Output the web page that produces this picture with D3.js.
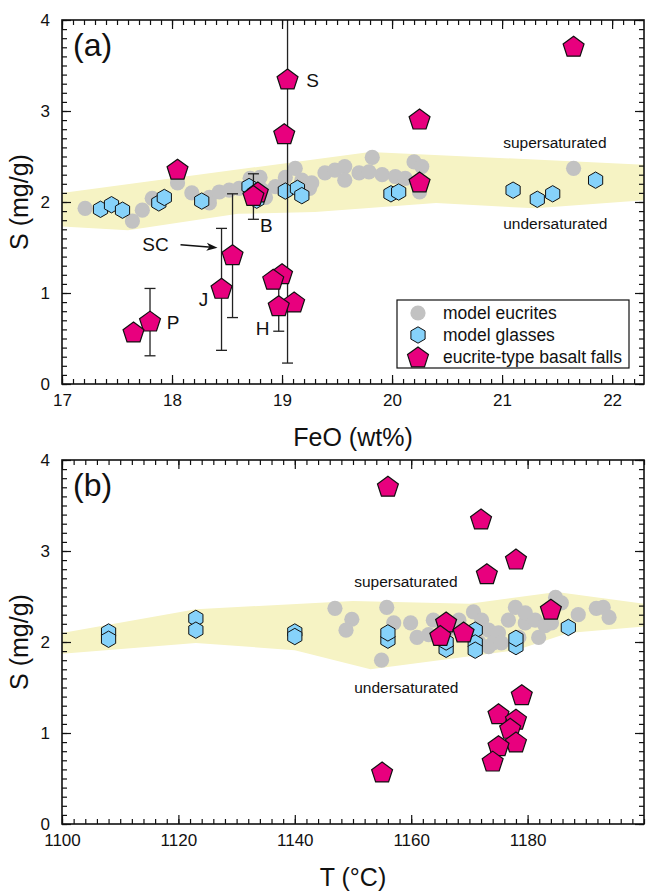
<!DOCTYPE html>
<html>
<head>
<meta charset="utf-8">
<script src="https://cdn.jsdelivr.net/npm/d3@7"></script>
<style>
  body { margin: 0; background: #fff; }
  svg { display: block; }
  text { font-family: "Liberation Sans", Arial, Helvetica, sans-serif; fill: #111; }
</style>
</head>
<body>
<svg id="chart" width="646" height="896"></svg>
<script>
// ---- tick labels ----
const feoTicks = [17, 18, 19, 20, 21, 22];
const tempTicks = [1100, 1120, 1140, 1160, 1180];
const sTicks = [0, 1, 2, 3, 4];

// ---- eucrite-type basalt falls (shared S values, FeO and T for each) ----
const fallS   = [3.70, 3.34, 2.90, 2.74, 2.35, 2.21, 2.10, 2.06, 1.41, 1.20, 1.14, 1.04, 0.89, 0.85, 0.68, 0.56];
const fallFeO = [21.65, 19.05, 20.25, 19.02, 18.05, 20.25, 18.78, 18.74, 18.55, 19.00, 18.92, 18.45, 19.11, 18.97, 17.80, 17.65];
const fallT   = [1156, 1172, 1178, 1173, 1184, 1166, 1169, 1165, 1179, 1175, 1178, 1177, 1178, 1175, 1174, 1155];
const fallErr = [0, 3.11, 0, 0, 0, 0, 0, 0.25, 0.68, 0, 0, 0.67, 0, 0.27, 0.37, 0];
const fallName = ["", "S", "", "", "", "", "", "B", "SC", "", "", "J", "", "H", "P", ""];

// ---- model glasses ----
const glassFeO = [17.35, 17.45, 17.55, 17.88, 17.93, 18.27, 18.70, 18.77, 19.03, 19.14, 19.18, 19.99, 20.06, 21.10, 21.32, 21.46, 21.85];
const glassSa  = [1.92, 1.97, 1.91, 1.99, 2.05, 2.01, 2.17, 2.02, 2.12, 2.15, 2.07, 2.09, 2.11, 2.13, 2.03, 2.09, 2.24];
const glassT   = [1108, 1108, 1123, 1123, 1140, 1140, 1156, 1156, 1166, 1166, 1171, 1171, 1171, 1178, 1178, 1187];
const glassSb  = [2.11, 2.03, 2.26, 2.13, 2.11, 2.06, 2.02, 2.10, 1.92, 2.00, 2.13, 1.99, 1.91, 1.95, 2.04, 2.16];

// ---- model eucrites ----
const eucFeO = [17.21, 17.64, 17.73, 17.82, 18.05, 18.18, 18.34, 18.34, 18.43, 18.52, 18.61, 18.71, 18.80, 18.82, 18.85,
                18.94, 19.03, 19.12, 19.18, 19.25, 19.27, 19.39, 19.48, 19.57, 19.57, 19.70, 19.79, 19.82, 19.91,
                20.03, 20.12, 20.20, 20.25, 20.27, 21.65];
const eucSa  = [1.93, 1.79, 1.91, 2.04, 2.21, 2.10, 2.05, 1.99, 2.11, 2.13, 2.15, 2.26, 2.27, 2.13, 2.05,
                2.17, 2.27, 2.37, 2.24, 2.15, 2.21, 2.32, 2.35, 2.39, 2.24, 2.32, 2.33, 2.49, 2.30,
                2.28, 2.26, 2.44, 2.11, 2.39, 2.37];
const eucT   = [1146.9, 1149.8, 1148.8, 1155.8, 1157.0, 1154.9, 1159.9, 1161.0, 1163.8, 1163.0, 1166.5, 1168.2, 1169.0,
                1170.7, 1171.6, 1172.1, 1173.3, 1173.3, 1174.1, 1175.0, 1175.5, 1176.7, 1177.9, 1178.5, 1179.6, 1179.6,
                1181.3, 1181.9, 1183.0, 1184.1, 1184.8, 1185.8, 1188.7, 1191.8, 1193.0, 1194.0];
const eucSb  = [2.37, 2.25, 2.13, 2.38, 2.21, 1.80, 2.21, 2.05, 2.24, 2.08, 2.14, 2.24, 2.10,
                2.33, 2.00, 2.24, 2.13, 1.95, 1.99, 2.10, 1.99, 2.24, 2.38, 2.05, 2.21, 2.32,
                2.24, 2.05, 2.18, 2.21, 2.49, 2.43, 2.30, 2.37, 2.38, 2.27];

// ---- saturation bands (upper edge then lower edge) ----
const bandA_x = [17.0, 19.8, 22.3, 22.3, 21.3, 20.4, 19.3, 18.6, 17.6, 17.0];
const bandA_y = [2.10, 2.55, 2.41, 2.02, 1.93, 1.99, 1.89, 1.87, 1.69, 1.73];
const bandB_x = [1100, 1123, 1150, 1170, 1185, 1200, 1200, 1187, 1178, 1153, 1140, 1123, 1100];
const bandB_y = [2.10, 2.36, 2.45, 2.42, 2.55, 2.42, 2.17, 2.10, 1.91, 1.70, 1.91, 1.99, 1.87];

const svg = d3.select("#chart");

const C_EUC = "#c2c2c2", C_GLASS = "#86d2fa", C_FALL = "#e8007e", C_BAND = "#f6f3c4";
const FS_TICK = 17, FS_TITLE = 25, FS_NOTE = 15.5, FS_LEGEND = 17.5, FS_NAME = 19, FS_TAG = 32;

function polygonPath(n, r) {
  const pts = d3.range(n).map(k => {
    const a = -Math.PI / 2 + k * 2 * Math.PI / n;
    return [r * Math.cos(a), r * Math.sin(a)];
  });
  return "M" + pts.map(p => p[0].toFixed(2) + "," + p[1].toFixed(2)).join("L") + "Z";
}
const hexPath = polygonPath(6, 8.2);
const pentPath = polygonPath(5, 11);

function panel(opts) {
  const { top, bottom, left, right, xDomain, xTicks, xMinorStep, xTitle, tag } = opts;
  const x = d3.scaleLinear().domain(xDomain).range([left, right]);
  const y = d3.scaleLinear().domain([0, 4]).range([bottom, top]);
  const g = svg.append("g");

  const clipId = "clip-" + tag;
  svg.append("clipPath").attr("id", clipId)
    .append("rect").attr("x", left).attr("y", top).attr("width", right - left).attr("height", bottom - top);
  const plot = g.append("g").attr("clip-path", `url(#${clipId})`);

  // band
  const band = opts.bandX.map((v, i) => [v, opts.bandY[i]]);
  plot.append("path")
    .attr("d", d3.line().x(d => x(d[0])).y(d => y(d[1]))(band) + "Z")
    .attr("fill", C_BAND);

  const xMinor = d3.range(xDomain[0], xDomain[1] + 1e-9, xMinorStep);
  const yMinor = d3.range(0, 4.0001, 0.1);

  const addAxis = (axis, tx, ty) => {
    const ag = g.append("g").attr("transform", `translate(${tx},${ty})`).call(axis);
    ag.select(".domain").remove();
    ag.selectAll("line").attr("stroke", "#111").attr("stroke-width", 1.2);
    return ag;
  };
  const minor = (fn, s, vals) => fn(s).tickValues(vals).tickSizeInner(-5).tickSizeOuter(0).tickFormat("");
  const major = (fn, s, vals) => fn(s).tickValues(vals).tickSizeInner(-9).tickSizeOuter(0);

  // inward ticks on all four sides
  addAxis(minor(d3.axisBottom, x, xMinor), 0, bottom);
  addAxis(minor(d3.axisTop, x, xMinor), 0, top);
  addAxis(minor(d3.axisLeft, y, yMinor), left, 0);
  addAxis(minor(d3.axisRight, y, yMinor), right, 0);
  const bx = addAxis(major(d3.axisBottom, x, xTicks).tickPadding(10).tickFormat(d3.format("d")), 0, bottom);
  bx.selectAll("text").attr("font-size", FS_TICK).attr("fill", "#111");
  addAxis(major(d3.axisTop, x, xTicks).tickFormat(""), 0, top);
  const ly = addAxis(major(d3.axisLeft, y, sTicks).tickPadding(12).tickFormat(d3.format("d")), left, 0);
  ly.selectAll("text").attr("font-size", FS_TICK).attr("fill", "#111");
  addAxis(major(d3.axisRight, y, sTicks).tickFormat(""), right, 0);

  // frame
  g.append("rect").attr("x", left).attr("y", top).attr("width", right - left).attr("height", bottom - top)
    .attr("fill", "none").attr("stroke", "#111").attr("stroke-width", 1.6);

  // titles
  g.append("text").attr("x", (left + right) / 2).attr("y", bottom + 62)
    .attr("text-anchor", "middle").attr("font-size", FS_TITLE).text(xTitle);
  g.append("text").attr("transform", `translate(${left - 34},${(top + bottom) / 2}) rotate(-90)`)
    .attr("text-anchor", "middle").attr("font-size", FS_TITLE).text("S (mg/g)");
  g.append("text").attr("x", left + 11).attr("y", top + 36).attr("font-size", FS_TAG).text(`(${tag})`);

  // model eucrites
  plot.append("g").selectAll("circle").data(opts.eucX.map((v, i) => [v, opts.eucY[i]])).join("circle")
    .attr("cx", d => x(d[0])).attr("cy", d => y(d[1])).attr("r", 7.6).attr("fill", C_EUC);

  // model glasses
  plot.append("g").selectAll("path").data(opts.glassX.map((v, i) => [v, opts.glassY[i]])).join("path")
    .attr("d", hexPath).attr("transform", d => `translate(${x(d[0])},${y(d[1])})`)
    .attr("fill", C_GLASS).attr("stroke", "#111").attr("stroke-width", 1);

  return { x, y, g, plot };
}

function drawFalls(p, xs, withErr) {
  const falls = fallS.map((s, i) => ({ x: xs[i], s, e: fallErr[i], name: fallName[i] }));
  if (withErr) {
    const eg = p.plot.append("g").attr("stroke", "#222").attr("stroke-width", 1.3);
    falls.filter(d => d.e > 0).forEach(d => {
      const cx = p.x(d.x), y0 = p.y(d.s - d.e), y1 = p.y(d.s + d.e);
      eg.append("line").attr("x1", cx).attr("x2", cx).attr("y1", y0).attr("y2", y1);
      eg.append("line").attr("x1", cx - 5.5).attr("x2", cx + 5.5).attr("y1", y0).attr("y2", y0);
      eg.append("line").attr("x1", cx - 5.5).attr("x2", cx + 5.5).attr("y1", y1).attr("y2", y1);
    });
  }
  p.plot.append("g").selectAll("path").data(falls).join("path")
    .attr("d", pentPath).attr("transform", d => `translate(${p.x(d.x)},${p.y(d.s)})`)
    .attr("fill", C_FALL).attr("stroke", "#111").attr("stroke-width", 1.2);
  return falls;
}

// ---------- panel (a): S vs FeO ----------
const pa = panel({
  tag: "a", top: 20, bottom: 384, left: 62, right: 644,
  xDomain: [17, 22.29], xTicks: feoTicks, xMinorStep: 0.1, xTitle: "FeO (wt%)",
  bandX: bandA_x, bandY: bandA_y,
  eucX: eucFeO, eucY: eucSa, glassX: glassFeO, glassY: glassSa
});
const fallsA = drawFalls(pa, fallFeO, true);

// sample labels beside the falls
const labelOffset = { S: [25, 7], B: [13, 35], J: [-18, 17], H: [-16, 28], P: [23, 7], SC: [-77, -5] };
fallsA.filter(d => d.name).forEach(d => {
  const [dx, dy] = labelOffset[d.name];
  pa.g.append("text").attr("x", pa.x(d.x) + dx).attr("y", pa.y(d.s) + dy)
    .attr("text-anchor", "middle").attr("font-size", FS_NAME).text(d.name);
});
// arrow pointing from the SC label to its error bar
{
  const sc = fallsA.find(d => d.name === "SC");
  const x1 = pa.x(sc.x) - 52, y1 = pa.y(sc.s) - 11, x2 = pa.x(sc.x) - 15, y2 = pa.y(sc.s) - 8;
  pa.g.append("line").attr("x1", x1).attr("y1", y1).attr("x2", x2 - 6).attr("y2", y2 - 0.5)
    .attr("stroke", "#111").attr("stroke-width", 1.6);
  const ang = Math.atan2(y2 - y1, x2 - x1) * 180 / Math.PI;
  pa.g.append("path").attr("d", "M0,0L-11,-4L-8,0L-11,4Z")
    .attr("transform", `translate(${x2},${y2}) rotate(${ang})`).attr("fill", "#111");
}

// saturation labels
pa.g.append("text").attr("x", pa.x(21.01)).attr("y", pa.y(2.59)).attr("font-size", FS_NOTE).text("supersaturated");
pa.g.append("text").attr("x", pa.x(21.01)).attr("y", pa.y(1.70)).attr("font-size", FS_NOTE).text("undersaturated");

// legend
{
  const lx = 397, ly = 300, lw = 232, lh = 68;
  const lg = pa.g.append("g");
  lg.append("rect").attr("x", lx).attr("y", ly).attr("width", lw).attr("height", lh)
    .attr("fill", "#fff").attr("stroke", "#111").attr("stroke-width", 1.2);
  const items = [
    { label: "model eucrites", kind: "c" },
    { label: "model glasses", kind: "h" },
    { label: "eucrite-type basalt falls", kind: "p" }
  ];
  items.forEach((it, i) => {
    const cy = ly + 13 + i * 22;
    if (it.kind === "c") lg.append("circle").attr("cx", lx + 21).attr("cy", cy).attr("r", 7.6).attr("fill", C_EUC);
    if (it.kind === "h") lg.append("path").attr("d", hexPath).attr("transform", `translate(${lx + 21},${cy})`)
      .attr("fill", C_GLASS).attr("stroke", "#111").attr("stroke-width", 1);
    if (it.kind === "p") lg.append("path").attr("d", pentPath).attr("transform", `translate(${lx + 21},${cy + 1})`)
      .attr("fill", C_FALL).attr("stroke", "#111").attr("stroke-width", 1.2);
    lg.append("text").attr("x", lx + 46).attr("y", cy + 6).attr("font-size", FS_LEGEND).text(it.label);
  });
}

// ---------- panel (b): S vs T ----------
const pb = panel({
  tag: "b", top: 460, bottom: 824, left: 62, right: 644,
  xDomain: [1100, 1200], xTicks: tempTicks, xMinorStep: 2, xTitle: "T (°C)",
  bandX: bandB_x, bandY: bandB_y,
  eucX: eucT, eucY: eucSb, glassX: glassT, glassY: glassSb
});
drawFalls(pb, fallT, false);
pb.g.append("text").attr("x", pb.x(1150.2)).attr("y", pb.y(2.60)).attr("font-size", FS_NOTE).text("supersaturated");
pb.g.append("text").attr("x", pb.x(1150.2)).attr("y", pb.y(1.44)).attr("font-size", FS_NOTE).text("undersaturated");
</script>
</body>
</html>
